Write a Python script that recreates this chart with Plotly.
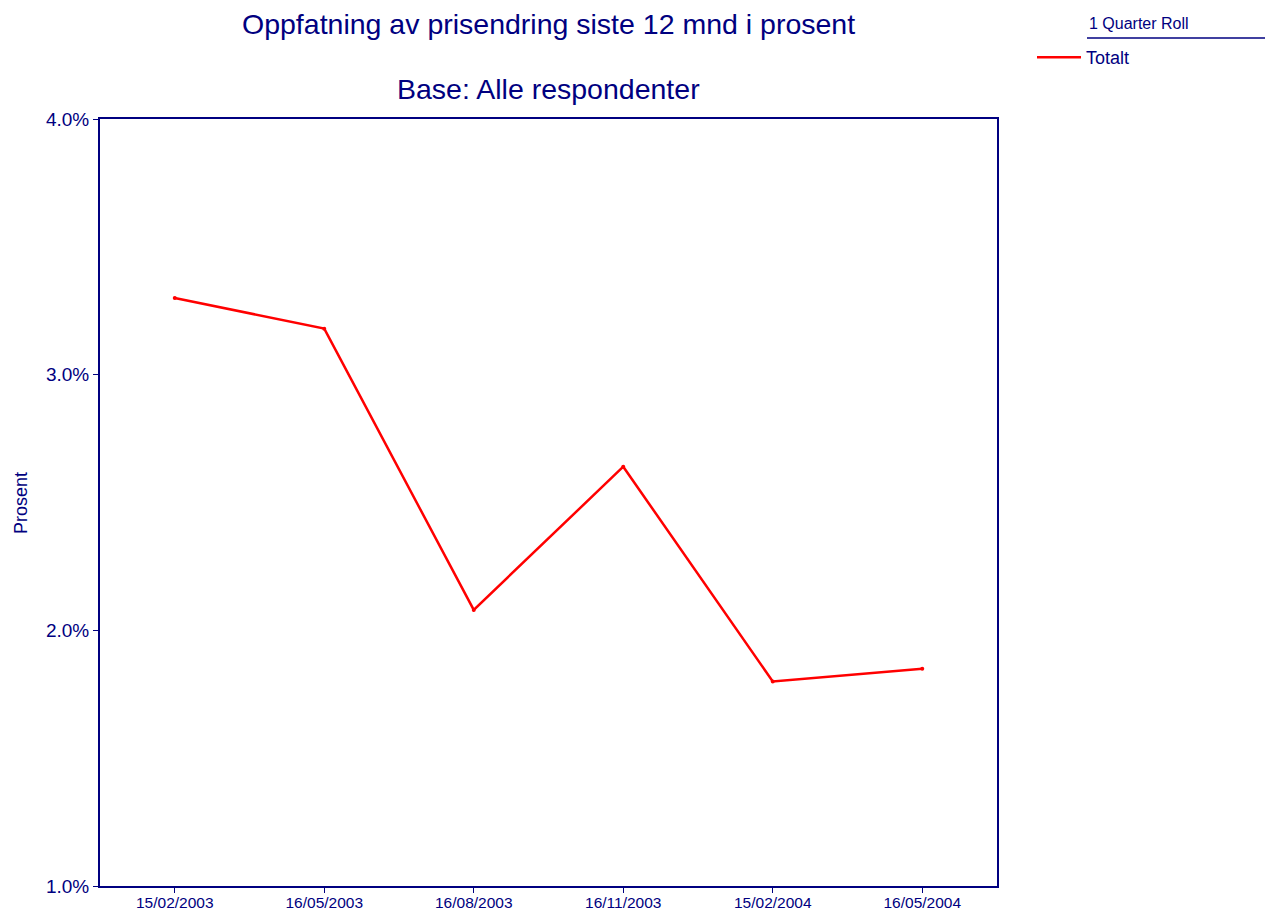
import plotly.graph_objects as go

categories = ["15/02/2003", "16/05/2003", "16/08/2003", "16/11/2003", "15/02/2004", "16/05/2004"]
totalt = [3.30, 3.18, 2.08, 2.64, 1.80, 1.85]
y_tick_values = [1.0, 2.0, 3.0, 4.0]
y_tick_labels = ["1.0%", "2.0%", "3.0%", "4.0%"]

NAVY = "#000080"
RED = "#ff0000"
FONT = "Liberation Sans, Arial, sans-serif"

# page offset introduced by the default body margin
OFF = 8
W, H = 1273 - OFF, 912 - OFF
L, T = 100 - OFF, 119 - OFF
R = W - (997 - OFF)
B = H - (886 - OFF)
pw, ph = W - L - R, H - T - B


def fx(p):
    return (p - OFF - L) / pw


def fy(p):
    return (H - B - (p - OFF)) / ph


fig = go.Figure()
fig.add_trace(go.Scatter(
    x=categories, y=totalt, mode="lines", name="Totalt",
    line=dict(color=RED, width=2.5),
))
fig.add_trace(go.Scatter(
    x=categories, y=totalt, mode="markers", name="Totalt", showlegend=False,
    marker=dict(color=RED, size=4),
))

fig.update_layout(
    width=W, height=H,
    margin=dict(l=L, r=R, t=T, b=B, autoexpand=False),
    paper_bgcolor="white", plot_bgcolor="white",
    font=dict(family=FONT, color=NAVY),
    showlegend=True,
    legend=dict(
        x=fx(1032), y=fy(39), xanchor="left", yanchor="top",
        font=dict(size=18, color=NAVY, family=FONT),
        bgcolor="rgba(0,0,0,0)", borderwidth=0,
        itemwidth=44, tracegroupgap=0,
    ),
    xaxis=dict(
        type="category", range=[-0.5, 5.5], automargin=False,
        showgrid=False, zeroline=False,
        showline=True, linecolor=NAVY, linewidth=2, mirror=True,
        ticks="outside", ticklen=5, tickcolor=NAVY, tickwidth=1,
        ticklabelstandoff=-4,
        tickfont=dict(size=15.5, color=NAVY, family=FONT),
    ),
    yaxis=dict(
        range=[1.0, 4.0], tickvals=y_tick_values, ticktext=y_tick_labels,
        automargin=False,
        showgrid=False, zeroline=False,
        showline=True, linecolor=NAVY, linewidth=2, mirror=True,
        ticks="outside", ticklen=5, tickcolor=NAVY, tickwidth=1,
        tickfont=dict(size=19, color=NAVY, family=FONT),
    ),
    annotations=[
        dict(text="Oppfatning av prisendring siste 12 mnd i prosent",
             x=0.5, y=fy(24), xref="paper", yref="paper",
             xanchor="center", yanchor="middle", showarrow=False,
             font=dict(size=28.5, color=NAVY, family=FONT)),
        dict(text="Base: Alle respondenter",
             x=0.5, y=fy(89), xref="paper", yref="paper",
             xanchor="center", yanchor="middle", showarrow=False,
             font=dict(size=28.5, color=NAVY, family=FONT)),
        dict(text="Prosent", textangle=-90,
             x=fx(OFF + 1), y=fy(503), xref="paper", yref="paper",
             xanchor="left", yanchor="middle", showarrow=False,
             font=dict(size=18, color=NAVY, family=FONT)),
        dict(text="1 Quarter Roll",
             x=fx(1087), y=fy(24), xref="paper", yref="paper",
             xanchor="left", yanchor="middle", showarrow=False,
             font=dict(size=16, color=NAVY, family=FONT)),
    ],
    shapes=[
        dict(type="line", xref="paper", yref="paper",
             x0=fx(1087), x1=fx(1273), y0=fy(38), y1=fy(38),
             line=dict(color=NAVY, width=1.5)),
    ],
)

fig.write_html("out.html")
